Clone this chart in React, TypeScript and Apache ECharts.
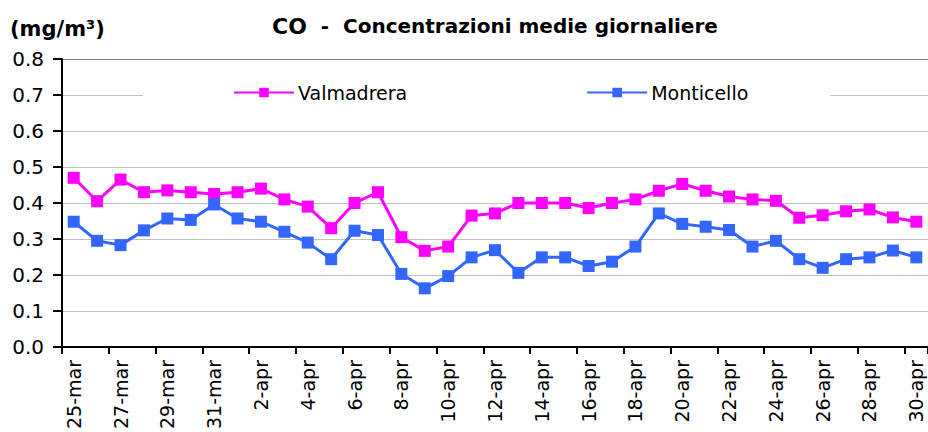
import React, { useEffect, useRef } from "react";
import * as echarts from "echarts";

const categories: string[] = [
  "25-mar", "26-mar", "27-mar", "28-mar", "29-mar", "30-mar", "31-mar",
  "1-apr", "2-apr", "3-apr", "4-apr", "5-apr", "6-apr", "7-apr", "8-apr", "9-apr", "10-apr",
  "11-apr", "12-apr", "13-apr", "14-apr", "15-apr", "16-apr", "17-apr", "18-apr", "19-apr", "20-apr",
  "21-apr", "22-apr", "23-apr", "24-apr", "25-apr", "26-apr", "27-apr", "28-apr", "29-apr", "30-apr",
];

const valmadrera: number[] = [
  0.47, 0.405, 0.465, 0.43, 0.435, 0.43, 0.425, 0.43, 0.44, 0.41, 0.39, 0.33,
  0.4, 0.43, 0.305, 0.267, 0.279, 0.365, 0.371, 0.4, 0.4, 0.4, 0.386, 0.4,
  0.41, 0.434, 0.453, 0.434, 0.418, 0.41, 0.406, 0.359, 0.366, 0.377, 0.382, 0.36, 0.348,
];

const monticello: number[] = [
  0.348, 0.295, 0.283, 0.324, 0.357, 0.353, 0.396, 0.357, 0.348, 0.32, 0.29, 0.244,
  0.323, 0.311, 0.203, 0.163, 0.197, 0.249, 0.269, 0.206, 0.249, 0.249, 0.225, 0.237,
  0.279, 0.371, 0.342, 0.334, 0.325, 0.279, 0.295, 0.244, 0.22, 0.244, 0.249, 0.268, 0.249,
];

const seriesNames = ["Valmadrera", "Monticello"];
const seriesColors = ["#FF00FF", "#3366FF"];

const FONT = "DejaVu Sans";

export default function App() {
  const ref = useRef<HTMLDivElement>(null);

  useEffect(() => {
    if (!ref.current) return;
    const chart = echarts.init(ref.current, undefined, { renderer: "svg" });
    const gridColors = ["#c0c0c0", "#c0c0c0", "#c0c0c0", "#c0c0c0", "#c0c0c0", "#c0c0c0", "#c0c0c0", "#c0c0c0", "#808080"];
    chart.setOption({
      animation: false,
      backgroundColor: "#ffffff",
      title: [
        {
          text: "{a|CO}{b|  -  Concentrazioni medie giornaliere}",
          left: 272,
          top: 13,
          padding: 0,
          textStyle: {
            rich: {
              a: { fontFamily: FONT, fontWeight: "bold", fontSize: 22, color: "#000", lineHeight: 26 },
              b: { fontFamily: FONT, fontWeight: "bold", fontSize: 20, color: "#000", lineHeight: 26 },
            },
          },
        },
        {
          text: "(mg/m³)",
          left: 10,
          top: 16,
          padding: 0,
          textStyle: { fontFamily: FONT, fontWeight: "bold", fontSize: 21, color: "#000", lineHeight: 26 },
        },
      ],
      legend: {
        data: seriesNames,
        left: 143,
        top: 78,
        padding: [5, 82, 5, 90],
        backgroundColor: "#ffffff",
        itemWidth: 60,
        itemHeight: 12,
        itemGap: 179,
        textStyle: { fontFamily: FONT, fontSize: 19, color: "#000", padding: [0, 0, 0, -1] },
      },
      grid: { left: 62, top: 59, width: 873, height: 288, containLabel: false },
      xAxis: {
        type: "category",
        data: categories,
        boundaryGap: true,
        axisLine: { show: true, lineStyle: { color: "#000", width: 2 } },
        axisTick: { show: true, interval: 1, length: 7, lineStyle: { color: "#000", width: 2 } },
        axisLabel: {
          interval: 1,
          rotate: 90,
          margin: 13,
          fontFamily: FONT,
          fontSize: 19,
          color: "#000",
        },
        splitLine: { show: false },
      },
      yAxis: {
        type: "value",
        min: 0,
        max: 0.8,
        interval: 0.1,
        axisLine: { show: true, lineStyle: { color: "#000", width: 2 } },
        axisTick: { show: true, length: 9, lineStyle: { color: "#000", width: 2 } },
        axisLabel: {
          margin: 18,
          fontFamily: FONT,
          fontSize: 20,
          color: "#000",
          formatter: (v: number) => v.toFixed(1),
        },
        splitLine: { show: true, lineStyle: { color: gridColors, width: 1 } },
      },
      series: [
        {
          name: seriesNames[0],
          type: "line",
          data: valmadrera,
          symbol: "rect",
          symbolSize: 12,
          color: seriesColors[0],
          lineStyle: { width: 3, color: seriesColors[0] },
          itemStyle: { color: seriesColors[0] },
          z: 3,
        },
        {
          name: seriesNames[1],
          type: "line",
          data: monticello,
          symbol: "rect",
          symbolSize: 12,
          color: seriesColors[1],
          lineStyle: { width: 3, color: seriesColors[1] },
          itemStyle: { color: seriesColors[1] },
          z: 3,
        },
      ],
    });
    return () => chart.dispose();
  }, []);

  return (
    <div
      ref={ref}
      style={{ position: "fixed", left: 0, top: 0, width: 928, height: 432 }}
    />
  );
}
